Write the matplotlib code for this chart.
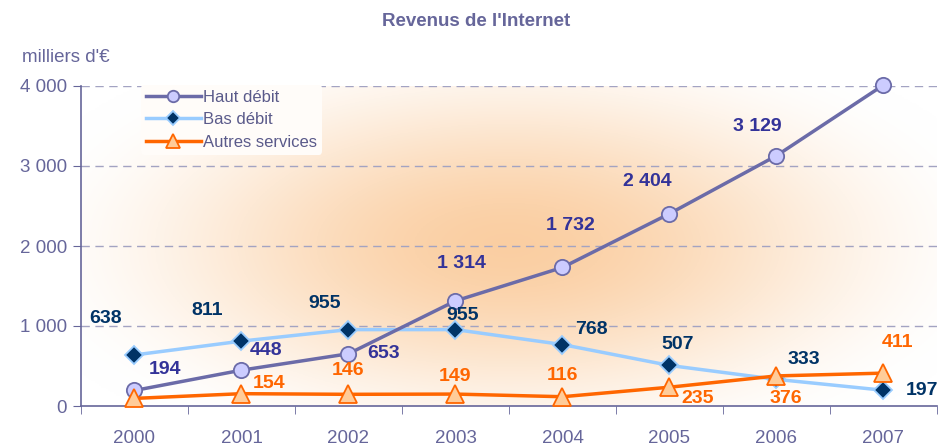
"""
Revenus de l'Internet — line chart with radial glow background.
"""

import matplotlib
matplotlib.use("Agg")
import matplotlib.pyplot as plt
import numpy as np

years = ["2000", "2001", "2002", "2003", "2004", "2005", "2006", "2007"]
haut_debit = [194, 448, 653, 1314, 1732, 2404, 3129, 4012]
bas_debit = [638, 811, 955, 955, 768, 507, 333, 197]
autres = [95, 154, 146, 149, 116, 235, 376, 411]
autres_labels = ["", "154", "146", "149", "116", "235", "376", "411"]

# label offsets in points (style only)
off_haut = [(22, 15), (18, 14), (25, 0), (4, 27), (6, 30), (-16, 23), (-14, 21), (34, 18)]
off_bas = [(-21, 26), (-25, 22), (-17, 19), (5, 10), (21, 11), (6, 15), (20, 14), (28, 0)]
off_aut = [(0, 0), (20, 7), (0, 17), (0, 13), (0, 15), (20, -8), (7, -16), (10, 22)]

AXIS_C = "#66669a"
HAUT_C = "#6b6ba8"
HAUT_TXT = "#333399"
BAS_C = "#99ccff"
BAS_TXT = "#003366"
AUT_C = "#ff6600"

plt.rcParams["font.family"] = ["Liberation Sans", "DejaVu Sans"]

fig = plt.figure(figsize=(9.53, 4.48), dpi=100)
ax = fig.add_axes([81 / 953, 1 - 406 / 448, (937 - 81) / 953, (406 - 86) / 448])

x = np.arange(len(years))

# radial peach glow behind the plot area
gx, gy = np.meshgrid(np.linspace(0, 1, 400), np.linspace(0, 1, 200))
r = np.sqrt(((gx - 0.50) / 0.60) ** 2 + ((gy - 0.50) / 0.72) ** 2)
w = np.clip(1 - r, 0, 1)
w = 0.88 * (w * w * (3 - 2 * w))
peach = np.array([250, 200, 150]) / 255
img = np.ones((200, 400, 3)) * (1 - w[..., None]) + peach * w[..., None]
ax.imshow(img, extent=[-0.5, 7.5, 0, 4000], origin="lower", aspect="auto", zorder=0)

for v in [1000, 2000, 3000, 4000]:
    ax.axhline(v, color="#a3a3c2", lw=1, ls=(0, (6, 4)), zorder=1)

ax.plot(x, haut_debit, color=HAUT_C, lw=2.5, marker="o", ms=11,
        mfc="#ccccff", mec=HAUT_C, mew=1.3, label="Haut débit", zorder=4, clip_on=False)
ax.plot(x, bas_debit, color=BAS_C, lw=2.5, marker="D", ms=9,
        mfc=BAS_TXT, mec=BAS_C, mew=1.3, label="Bas débit", zorder=3, clip_on=False)
ax.plot(x, autres, color=AUT_C, lw=2.5, marker="^", ms=13,
        mfc="#ffcc99", mec=AUT_C, mew=1.3, label="Autres services", zorder=5, clip_on=False)

def fmt(v):
    return f"{v:,}".replace(",", " ")

lbl = dict(textcoords="offset points", ha="center", va="center",
           fontsize=14, fontweight="bold", zorder=6)
for i in range(len(years)):
    ax.annotate(fmt(haut_debit[i]), (x[i], haut_debit[i]), xytext=off_haut[i],
                color=HAUT_TXT, **lbl)
    ax.annotate(fmt(bas_debit[i]), (x[i], bas_debit[i]), xytext=off_bas[i],
                color=BAS_TXT, **lbl)
    if autres_labels[i]:
        ax.annotate(autres_labels[i], (x[i], autres[i]), xytext=off_aut[i],
                    color=AUT_C, **lbl)

ax.set_xlim(-0.5, 7.5)
ax.set_ylim(0, 4000)
ax.set_xticks(x)
ax.set_xticklabels(years)
ax.set_xticks(np.arange(-0.5, 8, 1), minor=True)
ax.tick_params(axis="x", which="major", length=0, pad=17, labelsize=13.5, labelcolor=AXIS_C)
ax.tick_params(axis="x", which="minor", length=6, color=AXIS_C, direction="out")
ax.set_yticks([0, 1000, 2000, 3000, 4000])
ax.set_yticklabels(["0", "1 000", "2 000", "3 000", "4 000"])
ax.tick_params(axis="y", length=6, color=AXIS_C, labelsize=13.5, labelcolor=AXIS_C, pad=4)

for s in ["top", "right"]:
    ax.spines[s].set_visible(False)
for s in ["left", "bottom"]:
    ax.spines[s].set_color(AXIS_C)
    ax.spines[s].set_linewidth(1.2)

leg = ax.legend(loc="upper left", bbox_to_anchor=(0.06, 1.03), fontsize=12,
                frameon=True, facecolor="#fffcf9", edgecolor="none", framealpha=1,
                handlelength=3.3, labelspacing=0.45, borderpad=0.3, handletextpad=0.15,
                markerscale=0.75)
for t in leg.get_texts():
    t.set_color("#5a5a8a")
leg.set_zorder(7)

fig.text(0.5, 0.952, "Revenus de l'Internet", ha="center", va="center",
         fontsize=13.5, fontweight="bold", color="#66669a")
fig.text(22 / 953, 1 - 57 / 448, "milliers d'€", ha="left", va="center",
         fontsize=13.5, color=AXIS_C)

fig.savefig("out.png", dpi=100)
